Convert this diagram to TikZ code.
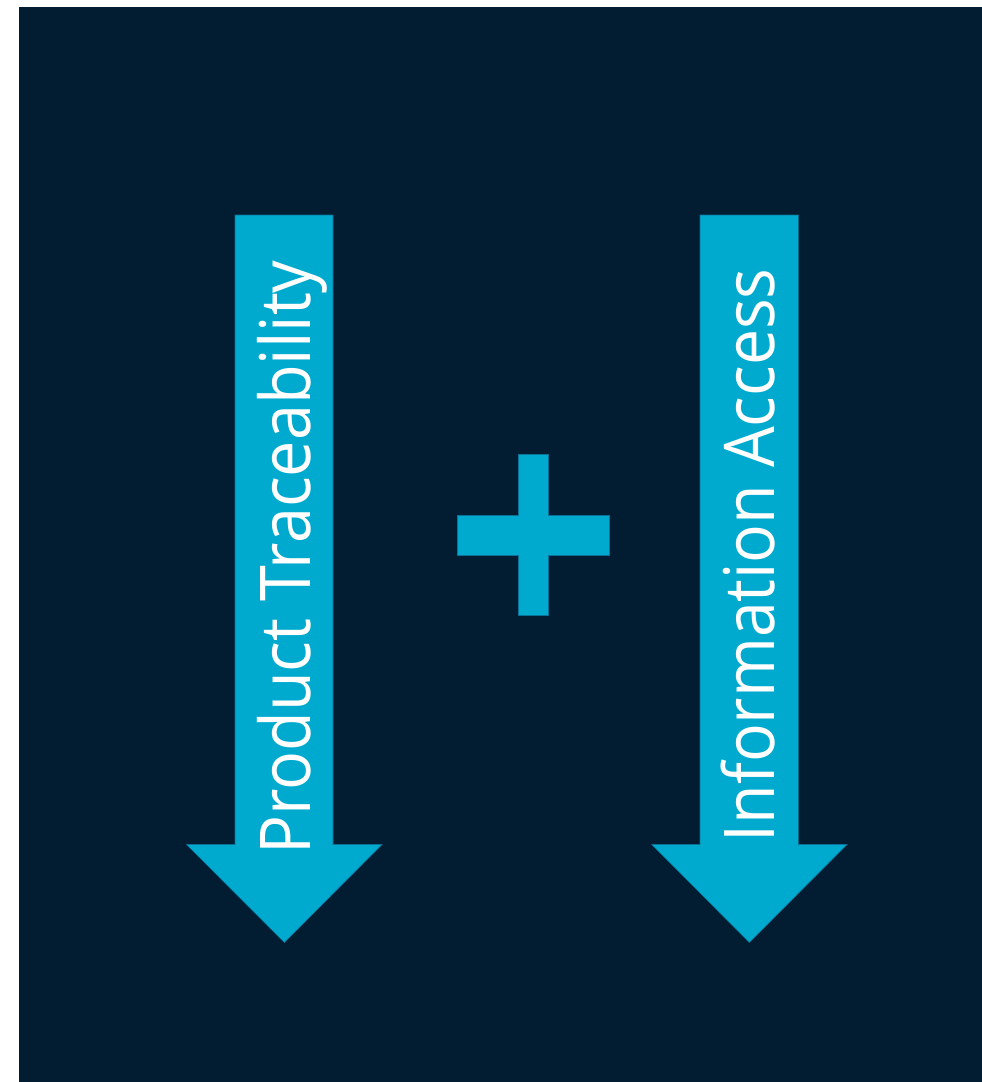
\documentclass[tikz,border=0pt]{standalone}
\usepackage{fontspec}
\setmainfont{Open Sans}
\definecolor{bgdark}{HTML}{021C32}
\definecolor{fillblue}{HTML}{00AACF}
\definecolor{edgeblue}{HTML}{0A7095}
\begin{document}
\begin{tikzpicture}[x=1pt,y=-1pt,
  blueshape/.style={fill=fillblue,draw=edgeblue,line width=0.6pt},
  arrowtext/.style={text=white,rotate=90,anchor=base west,inner sep=0pt,font=\fontsize{70}{84}\selectfont}]
\useasboundingbox (0,0) rectangle (982,1082);
\fill[white] (0,0) rectangle (982,1082);
\fill[bgdark] (19,7) rectangle (982,1082);
% left arrow
\path[blueshape] (235,215) -- (333,215) -- (333,844.5) -- (382,844.5) -- (284.3,942.5) -- (186.5,844.5) -- (235,844.5) -- cycle;
% right arrow
\path[blueshape] (700,215) -- (798.3,215) -- (798.3,844.5) -- (847,844.5) -- (749.3,942.5) -- (651.7,844.5) -- (700,844.5) -- cycle;
% plus
\path[blueshape] (518,454.3) -- (548.3,454.3) -- (548.3,515.3) -- (609,515.3) -- (609,555) -- (548.3,555) -- (548.3,615) -- (518,615) -- (518,555) -- (457.3,555) -- (457.3,515.3) -- (518,515.3) -- cycle;
\node[arrowtext] (pt) at (310,855) {\scalebox{0.925}[1]{Product Traceability}};
\node[arrowtext] (ia) at (774,842.5) {\scalebox{0.92}[1]{Information Access}};
\end{tikzpicture}
\end{document}
